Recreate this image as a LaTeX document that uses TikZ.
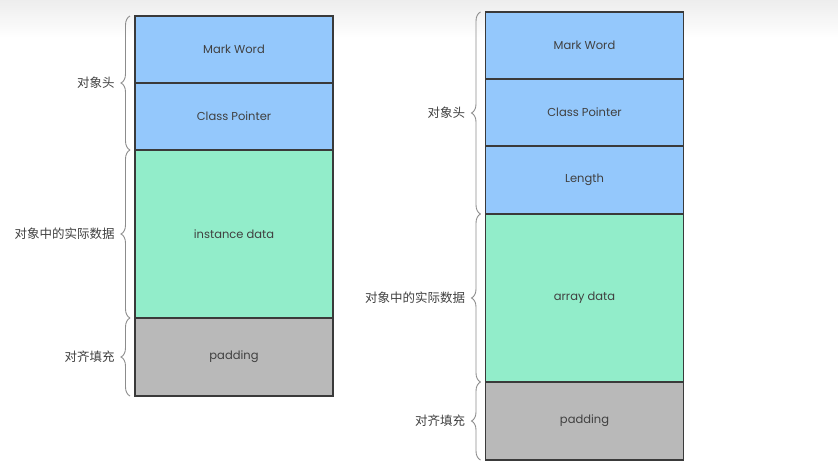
\documentclass[tikz,border=0pt]{standalone}
\usepackage{fontspec}
\setmainfont{Poppins}
\newfontfamily\cjk{Noto Sans CJK SC}
\usetikzlibrary{positioning,decorations.pathreplacing}
\definecolor{hdrblue}{HTML}{94C8FC}
\definecolor{datgreen}{HTML}{92EDCA}
\definecolor{padgray}{HTML}{B9B9B9}
\definecolor{edge}{HTML}{3A3A3A}
\tikzset{
  blk/.style={draw=edge, line width=1.4pt, minimum width=198pt, outer sep=0pt,
    inner sep=0pt, text=black!75, font=\fontsize{11.5}{13}\selectfont},
  brc/.style={draw=black!45, line width=0.9pt,
    decorate, decoration={brace, amplitude=9pt, aspect=0.5}},
  lbl/.style={left=4pt, inner sep=0pt, text=black!75,
    font=\cjk\fontsize{12.5}{14}\selectfont}
}
\begin{document}
\begin{tikzpicture}[x=1pt, y=-1pt]
\useasboundingbox (0,0) rectangle (838,469);
\shade[top color=black!7, bottom color=white] (0,0) rectangle (838,38);
% plain object
\node (lmark) [blk, fill=hdrblue, minimum height=67pt] at (234,49.5) {Mark Word};
\node (lclass) [blk, fill=hdrblue, minimum height=67pt, below=0pt of lmark] {Class Pointer};
\node (ldata) [blk, fill=datgreen, minimum height=168pt, below=0pt of lclass] {instance data};
\node (lpad) [blk, fill=padgray, minimum height=78pt, below=0pt of ldata] {padding};
\draw[brc] ([xshift=-5pt]lclass.south west) -- ([xshift=-5pt]lmark.north west)
  node[midway, lbl, xshift=-11pt] (lhead) {对象头};
\draw[brc] ([xshift=-5pt]ldata.south west) -- ([xshift=-5pt]ldata.north west)
  node[midway, lbl, xshift=-11pt] (lbody) {对象中的实际数据};
\draw[brc] ([xshift=-5pt]lpad.south west) -- ([xshift=-5pt]lpad.north west)
  node[midway, lbl, xshift=-11pt] (lfill) {对齐填充};
% array object
\node (rmark) [blk, fill=hdrblue, minimum height=67pt] at (584.5,45.5) {Mark Word};
\node (rclass) [blk, fill=hdrblue, minimum height=67pt, below=0pt of rmark] {Class Pointer};
\node (rlen) [blk, fill=hdrblue, minimum height=68pt, below=0pt of rclass] {Length};
\node (rdata) [blk, fill=datgreen, minimum height=168pt, below=0pt of rlen] {array data};
\node (rpad) [blk, fill=padgray, minimum height=78pt, below=0pt of rdata] {padding};
\draw[brc] ([xshift=-5pt]rlen.south west) -- ([xshift=-5pt]rmark.north west)
  node[midway, lbl, xshift=-11pt] (rhead) {对象头};
\draw[brc] ([xshift=-5pt]rdata.south west) -- ([xshift=-5pt]rdata.north west)
  node[midway, lbl, xshift=-11pt] (rbody) {对象中的实际数据};
\draw[brc] ([xshift=-5pt]rpad.south west) -- ([xshift=-5pt]rpad.north west)
  node[midway, lbl, xshift=-11pt] (rfill) {对齐填充};
\end{tikzpicture}
\end{document}
